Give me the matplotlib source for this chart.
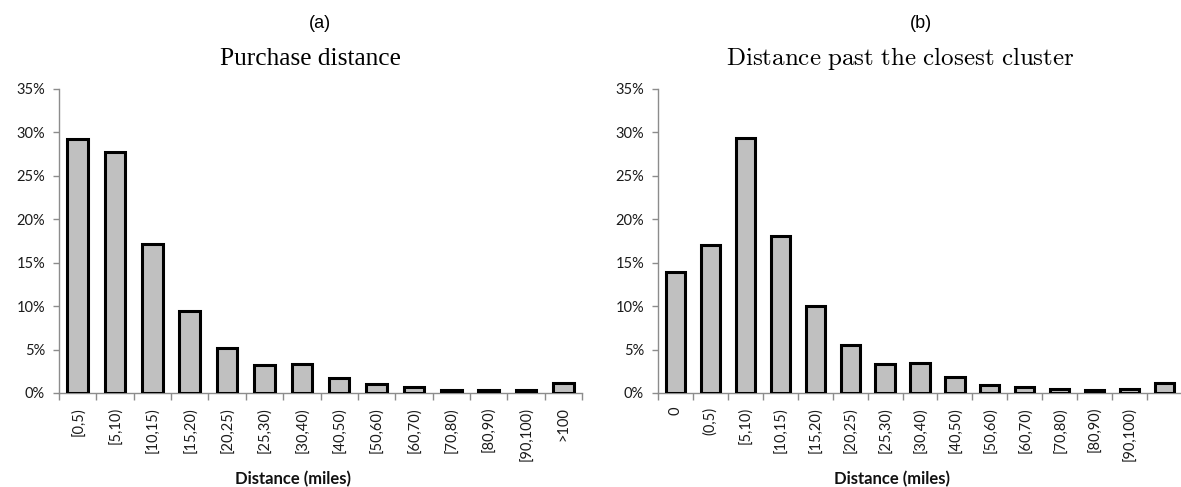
import numpy as np
import matplotlib
matplotlib.use("Agg")
import matplotlib.pyplot as plt
from matplotlib.ticker import FuncFormatter, FixedLocator

plt.rcParams['mathtext.fontset'] = 'cm'

# ---- data ----
labels_a = ["[0,5)", "[5,10)", "[10,15)", "[15,20)", "[20,25)", "[25,30)", "[30,40)",
            "[40,50)", "[50,60)", "[60,70)", "[70,80)", "[80,90)", "[90,100)", ">100"]
values_a = [29.2, 27.7, 17.1, 9.4, 5.2, 3.2, 3.3, 1.7, 1.0, 0.65, 0.35, 0.35, 0.35, 1.15]

labels_b = ["0", "(0,5)", "[5,10)", "[10,15)", "[15,20)", "[20,25)", "[25,30)", "[30,40)",
            "[40,50)", "[50,60)", "[60,70)", "[70,80)", "[80,90)", "[90,100)", ""]
values_b = [13.9, 17.0, 29.4, 18.1, 10.0, 5.5, 3.3, 3.4, 1.8, 0.95, 0.65, 0.45, 0.35, 0.45, 1.2]

yticks = [0, 5, 10, 15, 20, 25, 30, 35]

W, H = 1181, 487
fig = plt.figure(figsize=(W / 100, H / 100), dpi=100)

ax_gray = '#8c8c8c'
tick_font = 'Lato'


def setup(ax, labels, values):
    n = len(values)
    x = np.arange(n)
    ax.bar(x, values, width=0.55, color='#c0c0c0', edgecolor='black', linewidth=2.2, zorder=3)
    ax.set_xlim(-0.5, n - 0.5)
    ax.set_ylim(0, 35)
    for s in ['top', 'right']:
        ax.spines[s].set_visible(False)
    for s in ['left', 'bottom']:
        ax.spines[s].set_color(ax_gray)
        ax.spines[s].set_linewidth(1.0)
    ax.set_yticks(yticks)
    ax.yaxis.set_major_formatter(FuncFormatter(lambda v, p: f"{int(v)}%"))
    ax.tick_params(axis='y', length=4, width=1.0, color=ax_gray, labelsize=10.5,
                   labelcolor='#1a1a1a', pad=6)
    ax.set_xticks(x)
    ax.set_xticklabels(labels, rotation=90, fontsize=10.5, color='#1a1a1a', family=tick_font)
    ax.tick_params(axis='x', which='major', length=0, pad=10)
    ax.xaxis.set_minor_locator(FixedLocator(np.arange(n + 1) - 0.5))
    ax.tick_params(axis='x', which='minor', length=5, width=1.0, color=ax_gray)
    for t in ax.get_yticklabels():
        t.set_family(tick_font)
    ax.set_xlabel("Distance (miles)", fontsize=12, fontweight='bold', family=tick_font,
                  color='#111111')
    ax.xaxis.set_label_coords(0.447, -0.255)


axL = fig.add_axes([59 / W, 1 - 393 / H, (582 - 59) / W, (393 - 89) / H])
setup(axL, labels_a, values_a)

axR = fig.add_axes([658 / W, 1 - 393 / H, (1182 - 658) / W, (393 - 89) / H])
setup(axR, labels_b, values_b)

fig.text(320 / W, 1 - 23 / H, "(a)", ha='center', va='center', fontsize=13,
         family='Liberation Sans')
fig.text(310 / W, 1 - 59 / H, "Purchase distance", ha='center', va='center', fontsize=18.3,
         family='Liberation Serif')
fig.text(921 / W, 1 - 23 / H, "(b)", ha='center', va='center', fontsize=13,
         family='Liberation Sans')
fig.text(900 / W, 1 - 59 / H, r"$\mathrm{Distance\ past\ the\ closest\ cluster}$",
         ha='center', va='center', fontsize=18)

fig.savefig("out.png", dpi=100)
